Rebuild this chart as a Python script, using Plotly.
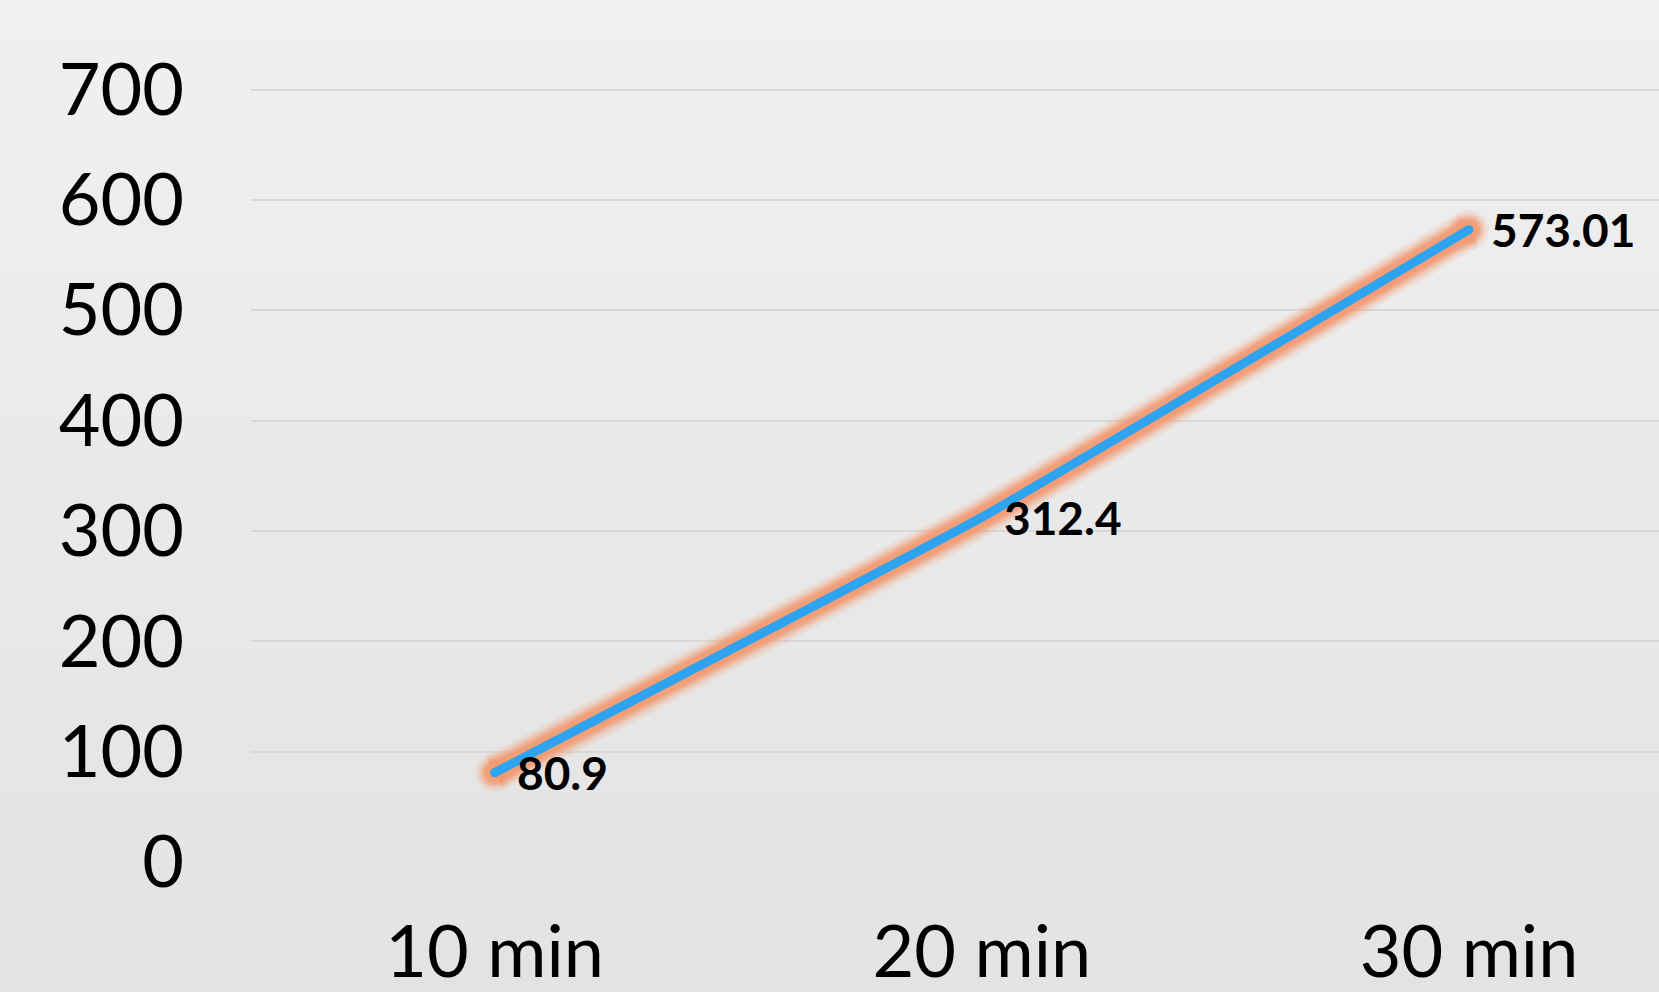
import plotly.graph_objects as go

categories = ["10 min", "20 min", "30 min"]
values = [80.9, 312.4, 573.01]
value_labels = ["80.9", "312.4", "573.01"]
y_ticks = [0, 100, 200, 300, 400, 500, 600, 700]

W, H = 1659, 992
FONT = "Lato"

fig = go.Figure()

line_shape = dict(shape="spline", smoothing=0.3)
end_x = [categories[0], categories[-1]]
end_y = [values[0], values[-1]]

# glow layers (orange soft halo)
glow = [(40, 0.10), (35, 0.16), (30, 0.25), (26, 0.38), (22, 0.55), (18, 0.75)]
for w, a in glow:
    col = f"rgba(243,155,115,{a})"
    fig.add_trace(go.Scatter(
        x=categories, y=values, mode="lines",
        line=dict(color=col, width=w, **line_shape),
        hoverinfo="skip", showlegend=False))
    fig.add_trace(go.Scatter(
        x=end_x, y=end_y, mode="markers",
        marker=dict(color=col, size=w, line=dict(width=0)),
        hoverinfo="skip", showlegend=False))

fig.add_trace(go.Scatter(
    x=categories, y=values, mode="lines",
    line=dict(color="#2EA3F0", width=9, **line_shape),
    showlegend=False))
fig.add_trace(go.Scatter(
    x=end_x, y=end_y, mode="markers",
    marker=dict(color="#2EA3F0", size=9, line=dict(width=0)),
    hoverinfo="skip", showlegend=False))

for c, v, t in zip(categories, values, value_labels):
    fig.add_annotation(x=c, y=v, text=f"<b>{t}</b>", showarrow=False,
                       xanchor="left", yanchor="middle", xshift=20,
                       font=dict(family=FONT, size=46, color="#000000"))

plot_bottom = 866.5
px_per_100 = (plot_bottom - 90) / 7
y_max = 700 + 90 / px_per_100 * 100

# background gradient across the whole page (paper coordinates)
shapes = []
n = 50
top = (240, 240, 240)
bot = (227, 227, 227)
y_lo = -(H - plot_bottom) / plot_bottom
y_hi = 1.0
step = (y_hi - y_lo) / n
for i in range(n):
    f = i / (n - 1)
    col = tuple(round(top[k] + (bot[k] - top[k]) * f) for k in range(3))
    y1 = y_hi - i * step + (0.05 if i == 0 else 0.002)
    y0 = y_hi - (i + 1) * step - (0.05 if i == n - 1 else 0)
    shapes.append(dict(type="rect", xref="paper", yref="paper",
                       x0=-1, x1=2, y0=y0, y1=y1,
                       fillcolor=f"rgb{col}", line=dict(width=0), layer="below"))

fig.update_layout(
    width=W, height=H,
    margin=dict(l=251, r=0, t=0, b=H - plot_bottom),
    paper_bgcolor="rgb(234,234,234)",
    plot_bgcolor="rgba(0,0,0,0)",
    shapes=shapes,
    font=dict(family=FONT, color="#000000"),
    xaxis=dict(range=[-0.5, 2.39], showgrid=False, zeroline=False,
               tickfont=dict(size=72, family=FONT), ticks="",
               ticklabelstandoff=42, showline=False),
    yaxis=dict(range=[0, y_max], tickvals=y_ticks, showgrid=True,
               gridcolor="#D8D8D8", gridwidth=2, zeroline=False,
               tickfont=dict(size=72, family=FONT), ticks="",
               ticklabelstandoff=66),
)

fig.write_html("out.html")
